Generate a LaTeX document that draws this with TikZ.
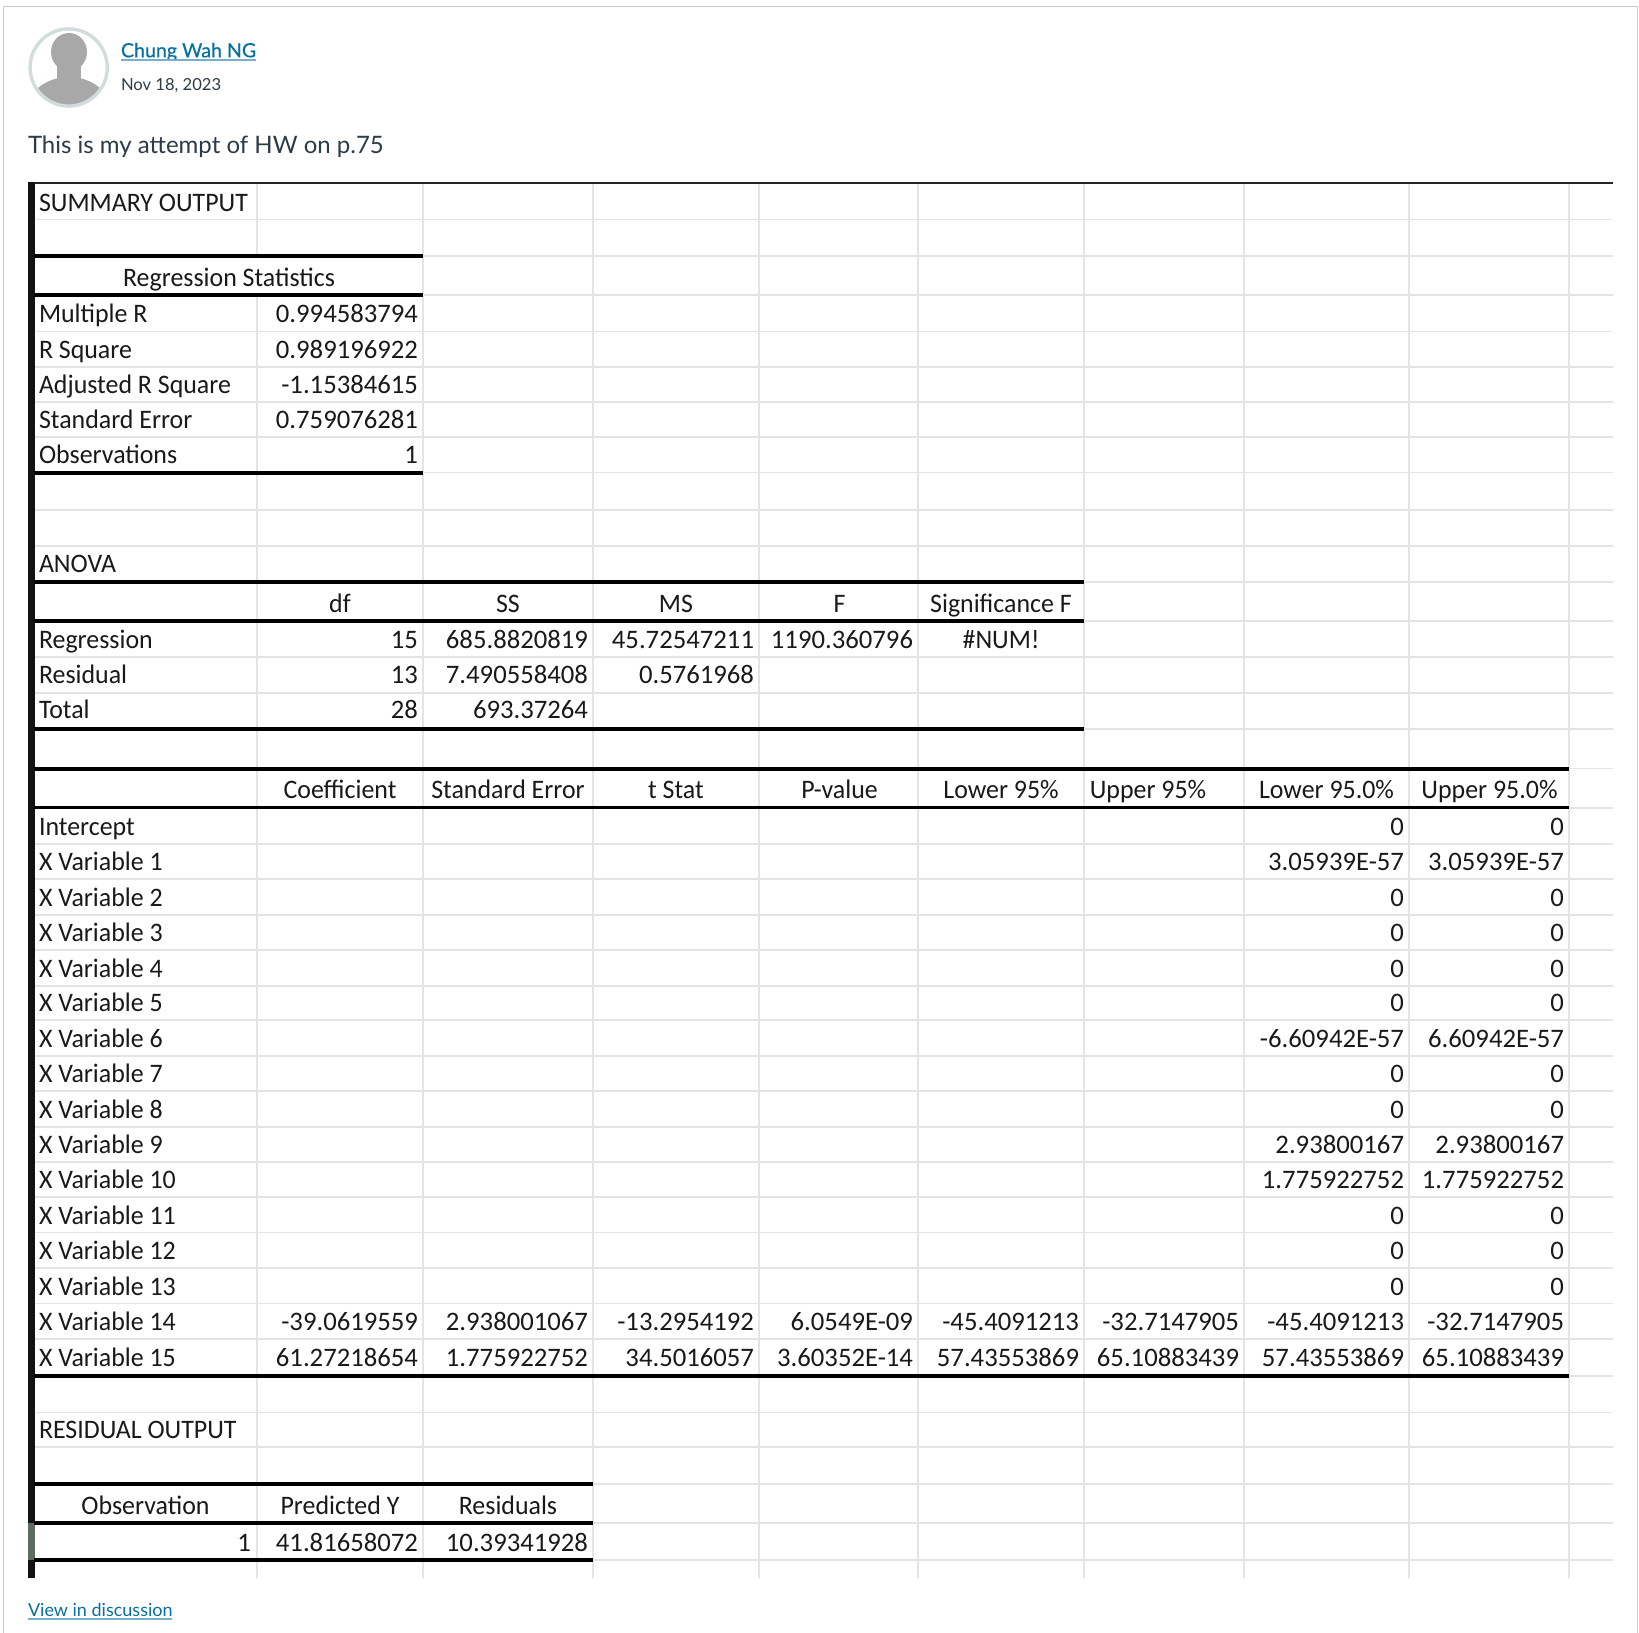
\documentclass[tikz,border=0pt]{standalone}
\usepackage{fontspec}
\setmainfont{Lato}
\newfontfamily\namefont[FakeBold=0.5]{Lato}
\newfontfamily\xlfont{Carlito}
\newfontfamily\xlword[FakeStretch=0.97]{Carlito}
\definecolor{linkblue}{HTML}{0770A3}
\definecolor{bodyink}{HTML}{2D3B45}
\definecolor{gridgray}{HTML}{E4E4E4}
\definecolor{framegray}{HTML}{C7CDD1}
\definecolor{ringgray}{HTML}{D3DCDC}
\definecolor{personfill}{HTML}{A8A8A8}
\definecolor{selectgray}{HTML}{5F6A60}
\tikzset{
  cell/.style = {inner sep=0pt, outer sep=0pt, text=black!90, yshift=-1.5pt},
  lft/.style = {cell, anchor=base west, font=\xlword\fontsize{26.7}{30}\selectfont},
  ctr/.style = {cell, anchor=base, font=\xlword\fontsize{26.7}{30}\selectfont},
  num/.style = {cell, anchor=base east, font=\xlfont\fontsize{26.7}{30}\selectfont},
  web/.style = {inner sep=0pt, outer sep=0pt, anchor=base west},
  gridline/.style = {gridgray, line width=1.8pt},
  thick rule/.style = {black, line width=4pt},
  head rule/.style = {black, line width=3.2pt},
}
\begin{document}
\begin{tikzpicture}[x=1pt, y=-1pt]
  \useasboundingbox (0, 0) rectangle (1639, 1633);
  % card frame
  \draw[framegray, line width=1.4pt] (3.7, 1633) -- (3.7, 6.3) -- (1637.7, 6.3) -- (1637.7, 1633);
  % avatar
  \begin{scope}
    \clip (68.7, 67.5) circle (37.5);
    \fill[personfill] (69, 52) ellipse (18 and 19);
    \fill[personfill] (57, 60) rectangle (81, 85);
    \fill[personfill] (69, 115) ellipse (44 and 38);
  \end{scope}
  \draw[ringgray, line width=3.4pt] (68.7, 67.5) circle (38.6);
  % heading
  \node[web, text=linkblue, font=\namefont\fontsize{19.6}{24}\selectfont] (author) at (121, 57.3) {Chung Wah NG};
  \draw[linkblue!55, line width=1.2pt] (121, 60) -- (256, 60);
  \node[web, text=bodyink, font=\fontsize{16.6}{20}\selectfont] (date) at (121, 90) {Nov 18, 2023};
  \node[web, text=bodyink, font=\fontsize{24}{28}\selectfont] (intro) at (28, 153.5) {This is my attempt of HW on p.75};
  % grid
  \foreach \ypos in {219.5, 256, 295, 331.4, 367, 402, 437, 472.5, 510, 545.7, 582, 621, 657, 692.7,
      729.3, 768.5, 807.7, 844, 879, 914.7, 950, 985.7, 1020, 1056, 1091, 1127, 1162, 1197, 1232.5,
      1268, 1303.5, 1339, 1375.7, 1412.5, 1447, 1484, 1523, 1560}
    \draw[gridline] (34, \ypos) -- (1613, \ypos);
  \foreach \xpos in {423, 592.7, 759, 918, 1084, 1244, 1409, 1569}
    \draw[gridline] (\xpos, 183) -- (\xpos, 1578);
  \draw[gridline] (257, 183) -- (257, 256);
  \draw[gridline] (257, 295) -- (257, 1578);
  % heavy rules
  \draw[black!85, line width=2.6pt] (28, 183) -- (1613, 183);
  \fill[black!93] (28, 182) rectangle (34.5, 1578);
  \fill[selectgray] (28, 1523) rectangle (34.5, 1560);
  \foreach \ypos in {256, 472.5}
    \draw[thick rule] (34, \ypos) -- (423, \ypos);
  \draw[head rule] (34, 295) -- (423, 295);
  \foreach \ypos in {582, 729.3}
    \draw[thick rule] (34, \ypos) -- (1084, \ypos);
  \draw[head rule] (34, 621) -- (1084, 621);
  \foreach \ypos in {768.5, 1375.7}
    \draw[thick rule] (34, \ypos) -- (1569, \ypos);
  \draw[head rule] (34, 807.7) -- (1569, 807.7);
  \foreach \ypos in {1484, 1560}
    \draw[thick rule] (34, \ypos) -- (592.7, \ypos);
  \draw[head rule] (34, 1523) -- (592.7, 1523);
  % summary
  \node[lft] (summary) at (39, 209.5) {SUMMARY OUTPUT};
  \node[ctr] (regstats) at (229, 285) {Regression Statistics};
  \node[lft] (multr) at (39, 321.4) {Multiple R};
  \node[num] (multrv) at (418, 321.4) {0.994583794};
  \node[lft] (rsq) at (39, 357) {R Square};
  \node[num] (rsqv) at (418, 357) {0.989196922};
  \node[lft] (adjr) at (39, 392) {Adjusted R Square};
  \node[num] (adjrv) at (418, 392) {-1.15384615};
  \node[lft] (stderr) at (39, 427) {Standard Error};
  \node[num] (stderrv) at (418, 427) {0.759076281};
  \node[lft] (obs) at (39, 462) {Observations};
  \node[num] (obsv) at (418, 462) {1};
  % anova
  \node[lft] (anova) at (39, 571) {ANOVA};
  \node[ctr] (dfh) at (340, 611) {df};
  \node[ctr] (ssh) at (508, 611) {SS};
  \node[ctr] (msh) at (676, 611) {MS};
  \node[ctr] (fh) at (839.5, 611) {F};
  \node[ctr] (sigh) at (1001, 611) {Significance F};
  \node[lft] (reg) at (39, 646.5) {Regression};
  \node[num] (regdf) at (418, 646.5) {15};
  \node[num] (regss) at (588, 646.5) {685.8820819};
  \node[num] (regms) at (754, 646.5) {45.72547211};
  \node[num] (regf) at (913, 646.5) {1190.360796};
  \node[ctr] (regsig) at (1001, 646.5) {\#NUM!};
  \node[lft] (res) at (39, 682) {Residual};
  \node[num] (resdf) at (418, 682) {13};
  \node[num] (resss) at (588, 682) {7.490558408};
  \node[num] (resms) at (754, 682) {0.5761968};
  \node[lft] (tot) at (39, 717) {Total};
  \node[num] (totdf) at (418, 717) {28};
  \node[num] (totss) at (588, 717) {693.37264};
  % coefficients
  \node[ctr] (coefh) at (340, 797) {Coefficient};
  \node[ctr] (seh) at (508, 797) {Standard Error};
  \node[ctr] (tsth) at (676, 797) {t Stat};
  \node[ctr] (pvh) at (839.5, 797) {P-value};
  \node[ctr] (lowh) at (1001, 797) {Lower 95\%};
  \node[ctr] (uph) at (1148, 797) {Upper 95\%};
  \node[ctr] (lowbh) at (1326.5, 797) {Lower 95.0\%};
  \node[ctr] (upbh) at (1489.5, 797) {Upper 95.0\%};
  \node[lft] (icpt) at (39, 833.6) {Intercept};
  \node[num] (icptl) at (1404, 833.6) {0};
  \node[num] (icptu) at (1564, 833.6) {0};
  \foreach \n/\ypos/\lo/\up in {1/869/3.05939E-57/3.05939E-57, 2/904.7/0/0, 3/940/0/0, 4/975.7/0/0,
      5/1010/0/0, 6/1046/-6.60942E-57/6.60942E-57, 7/1081/0/0, 8/1117/0/0,
      9/1152/2.93800167/2.93800167, 10/1187/1.775922752/1.775922752, 11/1222.5/0/0,
      12/1258/0/0, 13/1293.5/0/0} {
    \node[lft] (var\n) at (39, \ypos) {X Variable \n};
    \node[num] (var\n l) at (1404, \ypos) {\lo};
    \node[num] (var\n u) at (1564, \ypos) {\up};
  }
  \node[lft] (var14) at (39, 1329) {X Variable 14};
  \node[num] (var14c) at (418, 1329) {-39.0619559};
  \node[num] (var14s) at (588, 1329) {2.938001067};
  \node[num] (var14t) at (754, 1329) {-13.2954192};
  \node[num] (var14p) at (913, 1329) {6.0549E-09};
  \node[num] (var14a) at (1079, 1329) {-45.4091213};
  \node[num] (var14b) at (1239, 1329) {-32.7147905};
  \node[num] (var14l) at (1404, 1329) {-45.4091213};
  \node[num] (var14u) at (1564, 1329) {-32.7147905};
  \node[lft] (var15) at (39, 1365) {X Variable 15};
  \node[num] (var15c) at (418, 1365) {61.27218654};
  \node[num] (var15s) at (588, 1365) {1.775922752};
  \node[num] (var15t) at (754, 1365) {34.5016057};
  \node[num] (var15p) at (913, 1365) {3.60352E-14};
  \node[num] (var15a) at (1079, 1365) {57.43553869};
  \node[num] (var15b) at (1239, 1365) {65.10883439};
  \node[num] (var15l) at (1404, 1365) {57.43553869};
  \node[num] (var15u) at (1564, 1365) {65.10883439};
  % residuals
  \node[lft] (residual) at (39, 1437) {RESIDUAL OUTPUT};
  \node[ctr] (obsh) at (145.5, 1513) {Observation};
  \node[ctr] (predh) at (340, 1513) {Predicted Y};
  \node[ctr] (resh) at (508, 1513) {Residuals};
  \node[num] (obsone) at (251, 1550) {1};
  \node[num] (predone) at (418, 1550) {41.81658072};
  \node[num] (resone) at (588, 1550) {10.39341928};
  % footer
  \node[web, text=linkblue, font=\fontsize{18}{22}\selectfont] (view) at (28, 1616) {View in discussion};
  \draw[linkblue!55, line width=1.2pt] (28, 1619) -- (172, 1619);
\end{tikzpicture}
\end{document}
